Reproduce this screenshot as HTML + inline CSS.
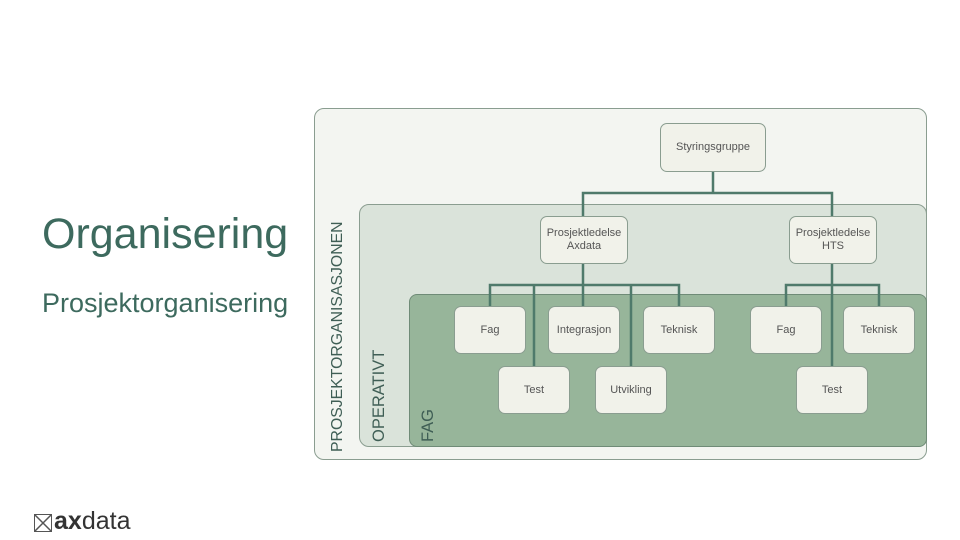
<!DOCTYPE html>
<html><head><style>
body{margin:0;width:960px;height:540px;background:#fff;position:relative;overflow:hidden;font-family:"Liberation Sans",sans-serif}
.a{position:absolute;box-sizing:border-box}
.n{position:absolute;box-sizing:border-box;background:#f1f2ea;border:1px solid #8a9d90;border-radius:7px;display:flex;align-items:center;justify-content:center;text-align:center;font-size:11px;color:#555;line-height:13px}
.v{position:absolute;transform:rotate(-90deg);transform-origin:0 0;white-space:nowrap;color:#3f5e55;font-weight:300}
</style></head><body>
<div class="a" style="left:42px;top:210px;font-size:43px;color:#3d6a5e">Organisering</div>
<div class="a" style="left:42px;top:288px;font-size:27px;color:#3d6a5e">Prosjektorganisering</div>
<div class="a" style="left:314px;top:108px;width:613px;height:352px;background:#f3f5f1;border:1px solid #8a9d90;border-radius:10px"></div>
<div class="a" style="left:359px;top:204px;width:568px;height:243px;background:#dae3da;border:1px solid #8a9d90;border-radius:10px"></div>
<div class="a" style="left:409px;top:294px;width:518px;height:153px;background:#97b59a;border:1px solid #6f8b77;border-radius:8px"></div>
<div class="v" style="left:329px;top:452px;font-size:15.8px">PROSJEKTORGANISASJONEN</div>
<div class="v" style="left:370px;top:442px;font-size:16.5px">OPERATIVT</div>
<div class="v" style="left:419px;top:442px;font-size:16.5px">FAG</div>
<svg class="a" style="left:0;top:0" width="960" height="540"><g stroke="#4f7a6b" stroke-width="2.5" fill="none">
<path d="M713 172V193M583 216V193H832V216"/>
<path d="M583 264V306M490 306V285H679V306M534 285V366M631 285V366"/>
<path d="M832 264V366M786 306V285H879V306"/>
</g></svg>
<div class="n" style="left:660px;top:123px;width:106px;height:49px">Styringsgruppe</div>
<div class="n" style="left:540px;top:216px;width:88px;height:48px">Prosjektledelse<br>Axdata</div>
<div class="n" style="left:789px;top:216px;width:88px;height:48px">Prosjektledelse<br>HTS</div>
<div class="n" style="left:454px;top:306px;width:72px;height:48px">Fag</div>
<div class="n" style="left:548px;top:306px;width:72px;height:48px">Integrasjon</div>
<div class="n" style="left:643px;top:306px;width:72px;height:48px">Teknisk</div>
<div class="n" style="left:750px;top:306px;width:72px;height:48px">Fag</div>
<div class="n" style="left:843px;top:306px;width:72px;height:48px">Teknisk</div>
<div class="n" style="left:498px;top:366px;width:72px;height:48px">Test</div>
<div class="n" style="left:595px;top:366px;width:72px;height:48px">Utvikling</div>
<div class="n" style="left:796px;top:366px;width:72px;height:48px">Test</div>
<div class="a" style="left:34px;top:514px;width:18px;height:18px;border:1px solid #555"></div>
<svg class="a" style="left:34px;top:514px" width="18" height="18"><path d="M1 1L17 17M17 1L1 17" stroke="#555" stroke-width="1.5"/></svg>
<div class="a" style="left:54px;top:507px;font-size:25px;color:#333"><b>ax</b>data</div>
</body></html>
